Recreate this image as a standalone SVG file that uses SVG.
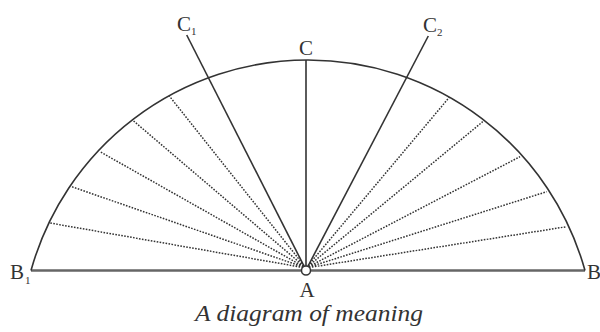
<svg xmlns="http://www.w3.org/2000/svg" width="600" height="332" viewBox="0 0 600 332">
<style>
.solid{stroke:#333;stroke-width:1.6;fill:none}
.base{stroke:#666;stroke-width:2.6;fill:none}
.dot{stroke:#333;stroke-width:1.5;stroke-dasharray:1.6 1.4;fill:none}
.lbl{font-family:"Liberation Serif",serif;font-size:21px;fill:#333}
.sub{font-family:"Liberation Serif",serif;font-size:11px;fill:#333}
.cap{font-family:"Liberation Serif",serif;font-style:italic;font-size:23px;fill:#333}
</style>
<rect width="600" height="332" fill="#fff"/>
<g id="connectors">
<path class="dot" d="M306 268 L50 223 M306 268 L71.7 186.7 M306 268 L100 151.7 M306 268 L133.3 120.7 M306 268 L169.3 96"/>
<path class="dot" d="M306 268 L449.3 97.3 M306 268 L482.7 121.7 M306 268 L520 156.7 M306 268 L546.7 191.7 M306 268 L566.7 226.7"/>
<path class="base" d="M31 270.5 L585 270.5"/>
<path id="arc" class="solid" d="M31 270.5 A287.5 287.5 0 0 1 585 270.5"/>
<path class="solid" d="M306 270 L306 60"/>
<path class="solid" d="M306 270 L186.7 35"/>
<path class="solid" d="M306 270 L428.3 36"/>
</g>
<g id="A"><circle cx="306" cy="270.5" r="4.5" fill="#fff" stroke="#333" stroke-width="1.5"/><text class="lbl" x="307" y="297" text-anchor="middle">A</text></g>
<g id="B1"><text class="lbl" x="10" y="279">B</text><text class="sub" x="25" y="284">1</text></g>
<g id="B"><text class="lbl" x="587" y="279">B</text></g>
<g id="C"><text class="lbl" x="306" y="55" text-anchor="middle">C</text></g>
<g id="C1"><text class="lbl" x="177" y="31">C</text><text class="sub" x="191" y="35">1</text></g>
<g id="C2"><text class="lbl" x="423" y="32">C</text><text class="sub" x="437" y="36">2</text></g>
<g id="caption"><text class="cap" x="195" y="321" textLength="228" lengthAdjust="spacingAndGlyphs">A diagram of meaning</text></g>
</svg>
